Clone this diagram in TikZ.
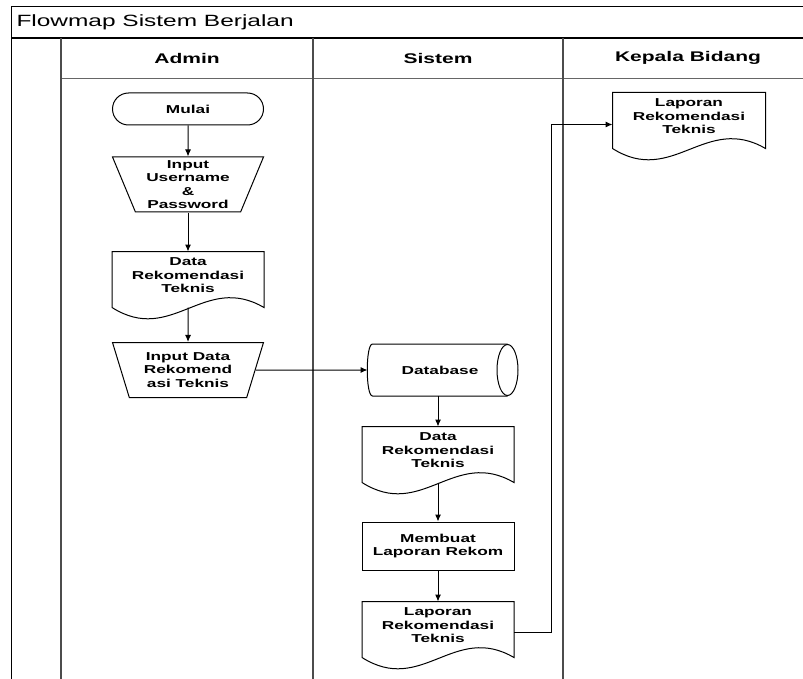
\documentclass[tikz,border=0pt]{standalone}
\usepackage{fontspec}
\setmainfont{Liberation Sans}[FakeStretch=1.5]
\usetikzlibrary{shapes.geometric,arrows.meta}

\begin{document}
\begin{tikzpicture}[x=1pt,y=-1pt,>={Latex[length=7pt,width=6pt]},line width=1pt,
  every node/.style={font=\bfseries\fontsize{11.5}{13.5}\selectfont,align=center,inner sep=1pt},
  head/.style={font=\bfseries\fontsize{14}{16}\selectfont},
  term/.style={draw,rectangle,rounded corners=16pt,minimum width=151pt,minimum height=32pt},
  manual/.style={draw,trapezium,shape border rotate=180,trapezium left angle=65.6,trapezium right angle=65.6,trapezium stretches body,minimum width=151pt,minimum height=55pt},
  doc/.style={minimum width=151pt,minimum height=47pt},
  proc/.style={draw,rectangle,minimum width=152pt,minimum height=48pt},
  lane/.style={line width=1.8pt,black!70}]
\useasboundingbox (0,0) rectangle (803,679);

\draw (803,7) -- (11,7) -- (11,679);
\draw[line width=2.2pt] (11,38) -- (803,38);
\draw[line width=0.7pt,black!60] (61,78) -- (803,78);
\foreach \x in {61,313,563} \draw[lane] (\x,38) -- (\x,679);

\node[anchor=west,font=\fontsize{16.3}{18}\selectfont] (title) at (15,22) {Flowmap Sistem Berjalan};
\node[head] (admin) at (187,58) {Admin};
\node[head] (sistem) at (438,58) {Sistem};
\node[head] (kabid) at (688,58) {Kepala Bidang};

\node[term] (mulai) at (188,109) {Mulai};
\node[manual] (inp1) at (188,184.5) {Input\\Username\\\&\\Password};
\node[doc] (rek1) at (188,275.5) {Data\\Rekomendasi\\Teknis};
\node[manual] (inp2) at (188,370) {Input Data\\Rekomend\\asi Teknis};
\node[minimum width=134pt,minimum height=51pt] (db) at (440,370) {Database};
\node[doc] (rek2) at (438,450.5) {Data\\Rekomendasi\\Teknis};
\node[proc] (buat) at (438,546) {Membuat\\Laporan Rekom};
\node[doc] (lap2) at (438,625.5) {Laporan\\Rekomendasi\\Teknis};
\node[doc,minimum width=152pt] (lap3) at (689,116.5) {Laporan\\Rekomendasi\\Teknis};

\foreach \n in {rek1,rek2,lap2,lap3}
  \draw (\n.north west) -- ([yshift=-8pt]\n.south west) .. controls +(60,38) and +(-60,-35) .. ([yshift=-8pt]\n.south east) -- (\n.north east) -- cycle;
\draw (db.north east) -- (db.north west) .. controls +(-7,0) and +(-7,0) .. (db.south west) -- (db.south east);
\draw (db.east) ellipse [x radius=10.5, y radius=25.5];

\draw[->] (mulai) -- (inp1);
\draw[->] (inp1) -- (rek1);
\draw[->] ([yshift=-8pt]rek1.south) -- (inp2);
\draw[->] (inp2.east) -- ([xshift=-5pt]db.west);
\draw[->] (db.south -| rek2.north) -- (rek2.north);
\draw[->] ([yshift=-8pt]rek2.south) -- (buat);
\draw[->] (buat) -- (lap2);
\draw[->] ([yshift=-7pt]lap2.east) -- ++(37,0) |- ([yshift=-8pt]lap3.west);
\end{tikzpicture}
\end{document}
